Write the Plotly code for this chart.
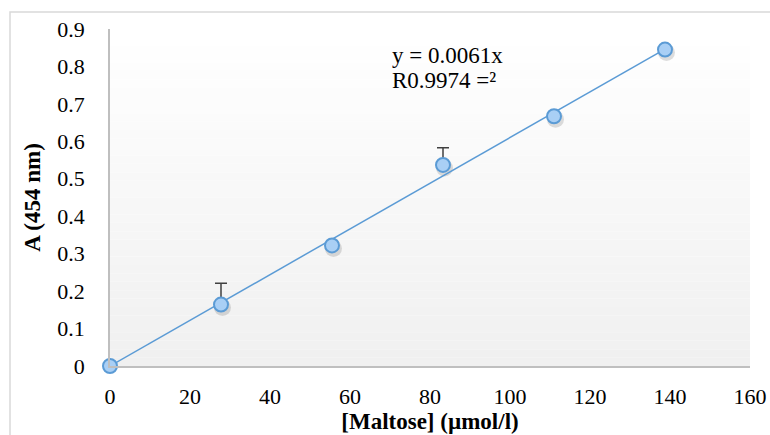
import plotly.graph_objects as go

maltose = [0, 27.75, 55.5, 83.25, 111, 138.75]
absorb = [0.0, 0.164, 0.322, 0.537, 0.667, 0.845]
err_plus = [0.0, 0.057, 0.0, 0.046, 0.0, 0.0]
slope = 0.0061
eq_text = "y = 0.0061x"
r2_text = "R0.9974 =²"
x_ticks = [0, 20, 40, 60, 80, 100, 120, 140, 160]
y_ticks = [0, 0.1, 0.2, 0.3, 0.4, 0.5, 0.6, 0.7, 0.8, 0.9]

serif = "Liberation Serif"

L, R, T, B = 110, 750, 29, 366  # plot area in pixels
W, H = 770, 435

fig = go.Figure()

# shadow under markers (offset a few pixels down-right)
dx = 1.5 * 160 / (R - L)
dy = 3.0 * 0.9 / (B - T)
fig.add_trace(go.Scatter(
    x=[v + dx for v in maltose], y=[v - dy for v in absorb], mode="markers",
    marker=dict(size=17, color="rgba(0,0,0,0.13)", line=dict(width=0)),
    hoverinfo="skip", showlegend=False, cliponaxis=False))

# trendline
fig.add_trace(go.Scatter(
    x=[maltose[0], maltose[-1]],
    y=[slope * maltose[0], slope * maltose[-1]],
    mode="lines", line=dict(color="#5b9bd5", width=1.5),
    hoverinfo="skip", showlegend=False, cliponaxis=False))

# data points
fig.add_trace(go.Scatter(
    x=maltose, y=absorb, mode="markers",
    marker=dict(size=14, color="#a9cff5", line=dict(color="#5b9bd5", width=2)),
    error_y=dict(type="data", symmetric=False, array=err_plus,
                 arrayminus=[0] * len(err_plus), color="#404040",
                 thickness=1.5, width=6),
    showlegend=False, cliponaxis=False))

# gradient background of plot area
shapes = []
n = 40
for i in range(n):
    t = i / (n - 1)
    g = int(round(255 - t * 15))
    shapes.append(dict(type="rect", xref="paper", yref="paper",
                       x0=0, x1=1, y0=1 - (i + 1) / n, y1=1 - i / n,
                       fillcolor=f"rgb({g},{g},{g})", line=dict(width=0),
                       layer="below"))
# chart border
shapes.append(dict(type="rect", xref="paper", yref="paper",
                   x0=(10 - L) / (R - L), x1=(775 - L) / (R - L),
                   y0=(B - 440) / (B - T), y1=(B - 12) / (B - T),
                   line=dict(color="#d9d9d9", width=1.5), layer="below"))

fig.update_layout(
    template="none",
    width=W, height=H,
    margin=dict(l=L, r=W - R, t=T, b=H - B, pad=0),
    paper_bgcolor="white", plot_bgcolor="rgba(0,0,0,0)",
    shapes=shapes,
    font=dict(family=serif, size=22, color="black"),
    xaxis=dict(range=[0, 160], tickvals=x_ticks, showgrid=False, zeroline=False,
               showline=True, linecolor="#bfbfbf", linewidth=1.5, automargin=False,
               ticks="", ticklabelstandoff=10,
               tickfont=dict(family=serif, size=22),
               title=dict(text="<b>[Maltose] (µmol/l)</b>",
                          font=dict(family=serif, size=23), standoff=3)),
    yaxis=dict(range=[0, 0.9], tickvals=y_ticks, showgrid=False, zeroline=False,
               showline=True, linecolor="#bfbfbf", linewidth=1.5, automargin=False,
               ticks="", ticklabelstandoff=19,
               tickfont=dict(family=serif, size=22),
               title=dict(text="<b>A (454 nm)</b>",
                          font=dict(family=serif, size=23), standoff=10)),
    annotations=[
        dict(x=(390 - L) / (R - L), y=(B - 55) / (B - T), xref="paper", yref="paper",
             text=eq_text, showarrow=False, xanchor="left", yanchor="middle",
             font=dict(family=serif, size=23)),
        dict(x=(390 - L) / (R - L), y=(B - 80) / (B - T), xref="paper", yref="paper",
             text=r2_text, showarrow=False, xanchor="left", yanchor="middle",
             font=dict(family=serif, size=23)),
    ],
)

fig.write_html("out.html")
